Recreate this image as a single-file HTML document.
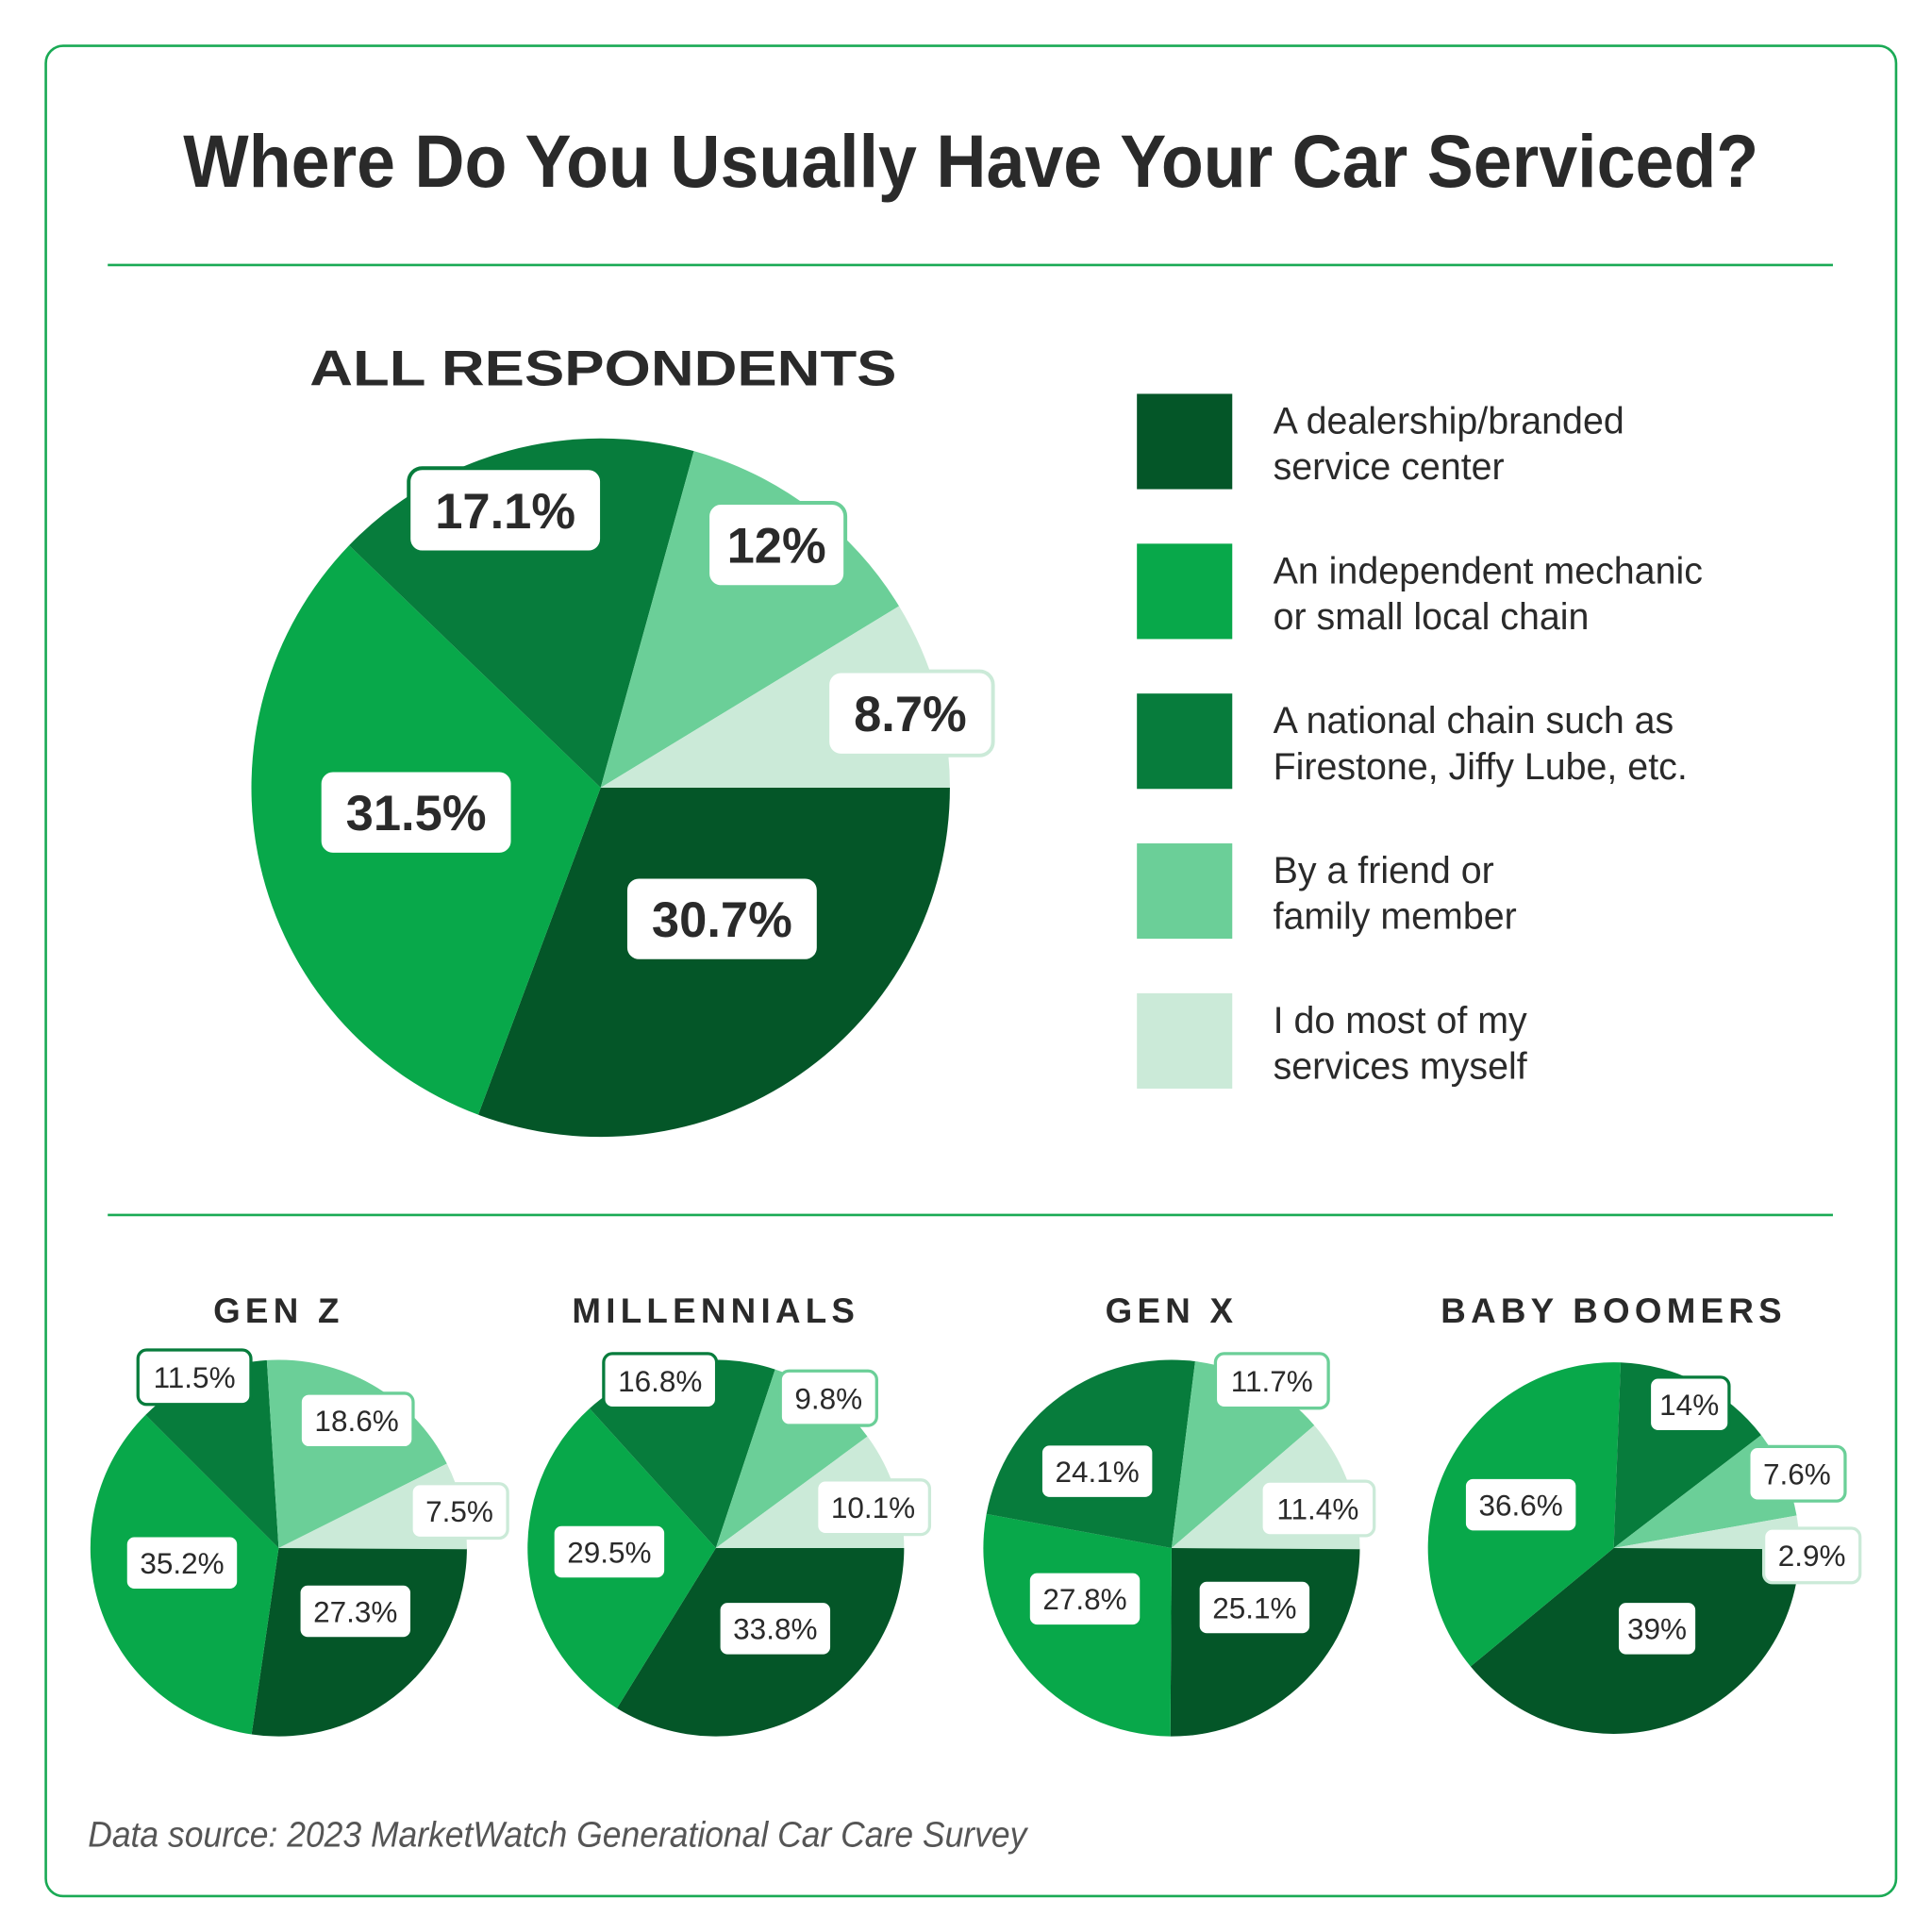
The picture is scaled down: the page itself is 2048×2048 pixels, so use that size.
<!DOCTYPE html>
<html><head><meta charset="utf-8"><style>
html,body{margin:0;padding:0;background:#fff}
svg{display:block}
text{font-family:"Liberation Sans",sans-serif;fill:#2a2a2a}
</style></head><body>
<svg id="chart" width="2048" height="2048" viewBox="0 0 1560 1560" xmlns="http://www.w3.org/2000/svg">
<rect x="37" y="37" width="1494" height="1494" rx="14" fill="#fff" stroke="#1aaa55" stroke-width="2"/>
<text x="784" y="151" text-anchor="middle" font-size="60" font-weight="bold" textLength="1272" lengthAdjust="spacingAndGlyphs">Where Do You Usually Have Your Car Serviced?</text>
<line x1="87" y1="214" x2="1480" y2="214" stroke="#1aaa55" stroke-width="2"/>
<line x1="87" y1="981" x2="1480" y2="981" stroke="#1aaa55" stroke-width="2"/>
<text x="487" y="311" text-anchor="middle" font-size="40" font-weight="bold" textLength="474" lengthAdjust="spacingAndGlyphs">ALL RESPONDENTS</text>
<g id="pies"></g>
<g id="legend"></g>
<text x="71" y="1491" font-size="29" font-style="italic" fill="#555" style="fill:#555" textLength="758" lengthAdjust="spacingAndGlyphs">Data source: 2023 MarketWatch Generational Car Care Survey</text>
</svg>
<script>
const categories = ["A dealership/branded service center","An independent mechanic or small local chain","A national chain such as Firestone, Jiffy Lube, etc.","By a friend or family member","I do most of my services myself"];
const allValues = [30.7, 31.5, 17.1, 12, 8.7];
const genZValues = [27.3, 35.2, 11.5, 18.6, 7.5];
const millennialValues = [33.8, 29.5, 16.8, 9.8, 10.1];
const genXValues = [25.1, 27.8, 24.1, 11.7, 11.4];
const boomerValues = [39, 36.6, 14, 7.6, 2.9];
const groupNames = ["GEN Z","MILLENNIALS","GEN X","BABY BOOMERS"];

const colors = ["#045628","#08a84a","#077c3c","#6bcf98","#cbead8"];
const NS = "http://www.w3.org/2000/svg";
const pies = document.getElementById("pies");
function mk(tag, attrs, parent){const e=document.createElementNS(NS,tag);for(const k in attrs)e.setAttribute(k,attrs[k]);(parent||pies).appendChild(e);return e;}
function angle(v){return v/100*2*Math.PI;}
function fmt(v){return v+"%";}

// layout: label positions (display coords) for each slice
const layouts = [
 {cx:485,cy:636,r:282,fs:40,h:68,pad:22,labels:[[583,742],[336,656],[408,412],[627,440],[735,576]],name:"all"},
 {cx:225,cy:1250,r:152,fs:24,h:44,pad:12,labels:[[287,1301],[147,1262],[157,1112],[288,1147],[371,1220]],name:"gen-z"},
 {cx:578,cy:1250,r:152,fs:24,h:44,pad:12,labels:[[626,1315],[492,1253],[533,1115],[669,1129],[705,1217]],name:"millennials"},
 {cx:946,cy:1250,r:152,fs:24,h:44,pad:12,labels:[[1013,1298],[876,1291],[886,1188],[1027,1115],[1064,1218]],name:"gen-x"},
 {cx:1303,cy:1250,r:150,fs:24,h:44,pad:12,labels:[[1338,1315],[1228,1215],[1364,1134],[1451,1190],[1463,1256]],name:"baby-boomers"}
];
const series = [allValues, genZValues, millennialValues, genXValues, boomerValues];

series.forEach((vals, si) => {
  const L = layouts[si];
  const g = mk("g", {});
  
  
  let a = 0;
  vals.forEach((v, i) => {
    const a0 = a, a1 = a + angle(v); a = a1;
    const x0 = L.cx + L.r*Math.cos(a0), y0 = L.cy + L.r*Math.sin(a0);
    const x1 = L.cx + L.r*Math.cos(a1), y1 = L.cy + L.r*Math.sin(a1);
    const large = (a1-a0) > Math.PI ? 1 : 0;
    const p = mk("path", {d:`M${L.cx},${L.cy}L${x0},${y0}A${L.r},${L.r} 0 ${large} 1 ${x1},${y1}Z`, fill:colors[i]}, g);
    
    
  });
  vals.forEach((v, i) => {
    const [lx, ly] = L.labels[i];
    const txt = fmt(v);
    const w = txt.length * L.fs * 0.56 + L.pad*2;
    const r = mk("rect", {x:lx-w/2, y:ly-L.h/2, width:w, height:L.h, rx:L.h*0.16, fill:"#fff", stroke:colors[i], "stroke-width":si===0?3:2.5}, g);
    
    
    const t = mk("text", {x:lx, y:ly+L.fs*0.36, "text-anchor":"middle", "font-size":L.fs, "font-weight":si===0?"bold":"normal"}, g);
    t.textContent = txt;
    
    
  });
  if (si > 0) {
    const t = mk("text", {x:L.cx, y:1068, "text-anchor":"middle", "font-size":28, "font-weight":"bold", "letter-spacing":"4"}, g);
    t.textContent = groupNames[si-1];
    
    
  }
});

const legend = document.getElementById("legend");


const legendLines = [["A dealership/branded","service center"],["An independent mechanic","or small local chain"],["A national chain such as","Firestone, Jiffy Lube, etc."],["By a friend or","family member"],["I do most of my","services myself"]];
categories.forEach((c, i) => {
  const top = 318 + i*121;
  const g = mk("g", {}, legend);
  
  
  const s = mk("rect", {x:918, y:top, width:77, height:77, fill:colors[i]}, g);
  
  
  legendLines[i].forEach((ln, j) => {
    const t = mk("text", {x:1028, y:top+32+j*37, "font-size":30}, g);
    t.textContent = ln;
    
    
  });
});
</script>
</body></html>
